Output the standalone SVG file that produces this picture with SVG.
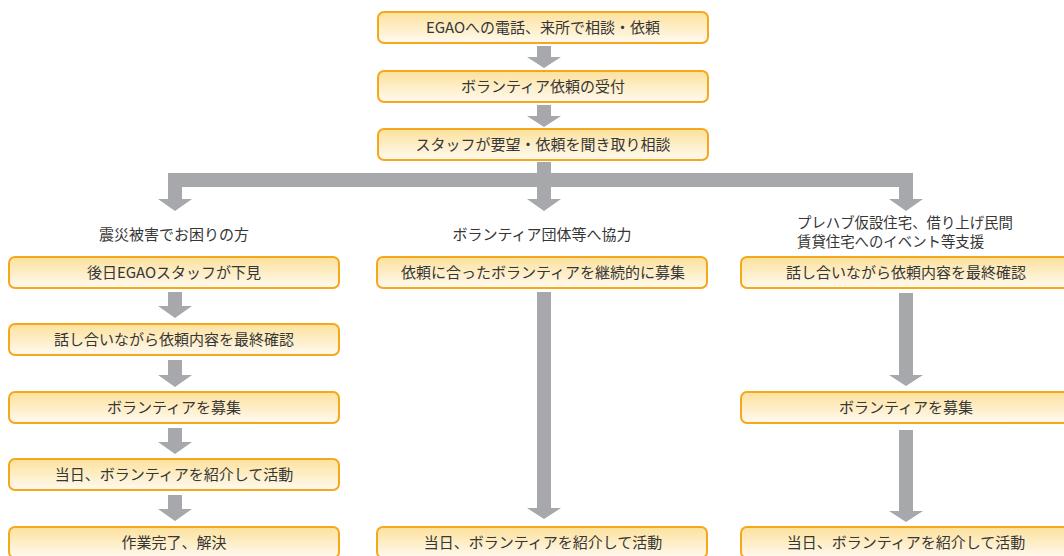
<svg xmlns="http://www.w3.org/2000/svg" width="1064" height="556" viewBox="0 0 1064 556">
  <defs>
    <linearGradient id="boxGrad" x1="0" y1="0" x2="0" y2="1">
      <stop offset="0" stop-color="#fde19c"/>
      <stop offset="1" stop-color="#fffaf0"/>
    </linearGradient>
    <style>
      .box { fill: url(#boxGrad); stroke: #f5a81c; stroke-width: 2; }
      .t { font-family: "Noto Sans CJK JP", "Noto Sans", sans-serif; font-size: 15px; fill: #363636; text-anchor: middle; }
      .lbl { font-family: "Noto Sans CJK JP", "Noto Sans", sans-serif; font-size: 14.4px; fill: #363636; }
      .arrow { fill: #a7a8ac; }
    </style>
  </defs>
  <rect width="1064" height="556" fill="#ffffff"/>

  <g id="connectors">
    <path class="arrow" d="M537,46 H551 V57 H561 L544,68 L527,57 H537 Z"/>
    <path class="arrow" d="M537,105 H551 V116 H561 L544,127 L527,116 H537 Z"/>
    <path class="arrow" d="M537,162 H551 V173 H913 V199 H923 L906,211 L889,199 H899 V187 H551 V199 H561 L544,211 L527,199 H537 V187 H182 V199 H192 L175,211 L158,199 H168 V173 H537 Z"/>
    <path class="arrow" d="M168,292 H182 V306 H192 L175,318 L158,306 H168 Z"/>
    <path class="arrow" d="M168,360 H182 V375 H192 L175,387 L158,375 H168 Z"/>
    <path class="arrow" d="M168,428 H182 V442 H192 L175,454 L158,442 H168 Z"/>
    <path class="arrow" d="M168,495 H182 V509 H192 L175,521 L158,509 H168 Z"/>
    <path class="arrow" d="M537,292 H551 V508 H561 L544,519 L527,508 H537 Z"/>
    <path class="arrow" d="M899,293 H913 V375 H923 L906,386 L889,375 H899 Z"/>
    <path class="arrow" d="M899,430 H913 V511 H923 L906,522 L889,511 H899 Z"/>
  </g>

  <g id="n1"><rect class="box" x="378" y="12" width="330" height="31" rx="6"/><text class="t" x="543" y="33">EGAOへの電話、来所で相談・依頼</text></g>
  <g id="n2"><rect class="box" x="378" y="71" width="330" height="31" rx="6"/><text class="t" x="543" y="92">ボランティア依頼の受付</text></g>
  <g id="n3"><rect class="box" x="378" y="129" width="330" height="31" rx="6"/><text class="t" x="543" y="150">スタッフが要望・依頼を聞き取り相談</text></g>

  <g id="label-left"><text class="t" x="174" y="240">震災被害でお困りの方</text></g>
  <g id="label-mid"><text class="t" x="542" y="240">ボランティア団体等へ協力</text></g>
  <g id="label-right"><text class="lbl" x="797" y="228">プレハブ仮設住宅、借り上げ民間</text><text class="lbl" x="797" y="247">賃貸住宅へのイベント等支援</text></g>

  <g id="l1"><rect class="box" x="9" y="257" width="330" height="31" rx="6"/><text class="t" x="174" y="278">後日EGAOスタッフが下見</text></g>
  <g id="l2"><rect class="box" x="9" y="324" width="330" height="31" rx="6"/><text class="t" x="174" y="345">話し合いながら依頼内容を最終確認</text></g>
  <g id="l3"><rect class="box" x="9" y="392" width="330" height="31" rx="6"/><text class="t" x="174" y="413">ボランティアを募集</text></g>
  <g id="l4"><rect class="box" x="9" y="459" width="330" height="31" rx="6"/><text class="t" x="174" y="480">当日、ボランティアを紹介して活動</text></g>
  <g id="l5"><rect class="box" x="9" y="527" width="330" height="31" rx="6"/><text class="t" x="174" y="548">作業完了、解決</text></g>

  <g id="m1"><rect class="box" x="377" y="257" width="330" height="31" rx="6"/><text class="t" x="543" y="278">依頼に合ったボランティアを継続的に募集</text></g>
  <g id="m2"><rect class="box" x="377" y="527" width="330" height="31" rx="6"/><text class="t" x="543" y="548">当日、ボランティアを紹介して活動</text></g>

  <g id="r1"><rect class="box" x="741" y="257" width="330" height="31" rx="6"/><text class="t" x="906" y="278">話し合いながら依頼内容を最終確認</text></g>
  <g id="r2"><rect class="box" x="741" y="392" width="330" height="31" rx="6"/><text class="t" x="906" y="413">ボランティアを募集</text></g>
  <g id="r3"><rect class="box" x="741" y="527" width="330" height="31" rx="6"/><text class="t" x="906" y="548">当日、ボランティアを紹介して活動</text></g>
</svg>
